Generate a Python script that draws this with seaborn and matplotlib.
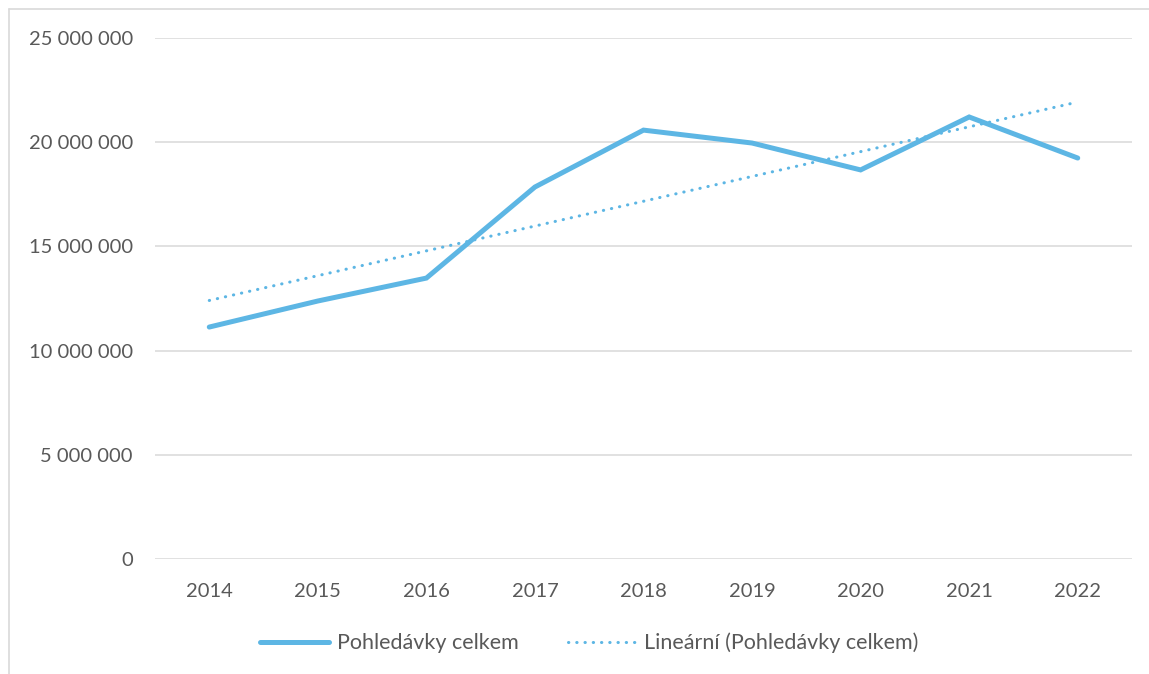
import numpy as np
import pandas as pd
import seaborn as sns
import matplotlib.pyplot as plt
from matplotlib.lines import Line2D
from matplotlib.ticker import FuncFormatter

# Data
years = [2014, 2015, 2016, 2017, 2018, 2019, 2020, 2021, 2022]
receivables = [11130000, 12380000, 13480000, 17850000, 20580000,
               19960000, 18670000, 21210000, 19240000]
series_name = "Pohledávky celkem"
trend_name = "Lineární (Pohledávky celkem)"
y_ticks = [0, 5000000, 10000000, 15000000, 20000000, 25000000]

LINE_COLOR = "#5DB6E4"
TEXT_COLOR = "#595959"
GRID_COLOR = "#D9D9D9"
DOTS = (0, (0.1, 2.6))

sns.set_theme(style="white")
plt.rcParams['font.family'] = ['Lato', 'DejaVu Sans']

df = pd.DataFrame({"year": years, "value": receivables})

fig = plt.figure(figsize=(11.49, 6.74), dpi=100)
ax = fig.add_axes([155 / 1149, 1 - 559 / 674, (1132 - 155) / 1149, (559 - 38) / 674])

sns.lineplot(data=df, x="year", y="value", ax=ax, color=LINE_COLOR,
             linewidth=3.6, solid_capstyle="round", solid_joinstyle="miter")
sns.regplot(data=df, x="year", y="value", ax=ax, scatter=False, ci=None,
            truncate=True,
            line_kws={"color": LINE_COLOR, "linewidth": 2.2,
                      "linestyle": DOTS, "dash_capstyle": "round"})

ax.set_xlim(2013.5, 2022.5)
ax.set_ylim(0, 25000000)
ax.set_xticks(years)
ax.set_yticks(y_ticks)
ax.yaxis.set_major_formatter(FuncFormatter(lambda v, p: f"{v:,.0f}".replace(",", " ")))
ax.grid(axis="y", color=GRID_COLOR, linewidth=1.1)
ax.set_axisbelow(True)
for side in ["top", "right", "left", "bottom"]:
    ax.spines[side].set_visible(False)
ax.tick_params(axis="both", length=0, labelsize=14.5, labelcolor=TEXT_COLOR)
ax.tick_params(axis="y", pad=16)
ax.tick_params(axis="x", pad=17)
ax.set_xlabel("")
ax.set_ylabel("")

handles = [
    Line2D([0], [0], color=LINE_COLOR, linewidth=3.6, solid_capstyle="round"),
    Line2D([0], [0], color=LINE_COLOR, linewidth=2.2,
           linestyle=DOTS, dash_capstyle="round"),
]
fig.legend(handles, [series_name, trend_name], loc="center",
           bbox_to_anchor=(0.513, 1 - 643 / 674), ncol=2, frameon=False,
           fontsize=15.5, labelcolor=TEXT_COLOR, handlelength=3.2,
           handletextpad=0.35, columnspacing=2.3)

# Chart area border (top and left edges visible)
fig.add_artist(Line2D([8.5 / 1149, 1.0], [1 - 9 / 674, 1 - 9 / 674],
                      transform=fig.transFigure, color=GRID_COLOR, linewidth=1.2))
fig.add_artist(Line2D([8.5 / 1149, 8.5 / 1149], [0.0, 1 - 9 / 674],
                      transform=fig.transFigure, color=GRID_COLOR, linewidth=1.2))

fig.savefig("out.png", dpi=100)
